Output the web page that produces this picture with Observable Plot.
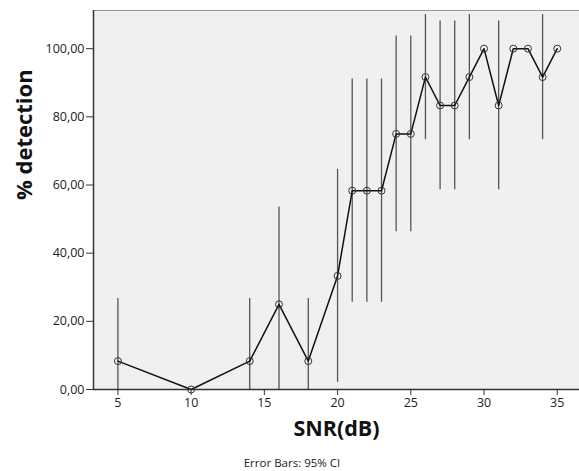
<!DOCTYPE html>
<html>
<head>
<meta charset="utf-8">
<script src="https://cdn.jsdelivr.net/npm/d3@7"></script>
<script src="https://cdn.jsdelivr.net/npm/@observablehq/plot@0.6"></script>
<style>
  html, body { margin: 0; padding: 0; background: #fff; }
  #wrap { position: relative; width: 579px; height: 471px; overflow: hidden; }
  #caption { position: absolute; left: 0; width: 584px; top: 455px; text-align: center;
    font-family: "Open Sans", sans-serif; font-size: 11.5px; color: #222; line-height: 16px; }
</style>
</head>
<body>
<div id="wrap"><div id="chart"></div><div id="caption">Error Bars: 95% CI</div></div>
<script>
const snr       = [5, 10, 14, 16, 18, 20, 21, 22, 23, 24, 25, 26, 27, 28, 29, 30, 31, 32, 33, 34, 35];
const detection = [8.33, 0, 8.33, 25, 8.33, 33.33, 58.33, 58.33, 58.33, 75, 75, 91.67, 83.33, 83.33, 91.67, 100, 83.33, 100, 100, 91.67, 100];
const ciLow     = [-10, 0, -10, -3.5, -10, 2.1, 25.6, 25.6, 25.6, 46.3, 46.3, 73.3, 58.6, 58.6, 73.3, 100, 58.6, 100, 100, 73.3, 100];
const ciHigh    = [26.7, 0, 26.7, 53.5, 26.7, 64.6, 91.1, 91.1, 91.1, 103.7, 103.7, 110, 108.1, 108.1, 110, 100, 108.1, 100, 100, 110, 100];
const yTicks    = [0, 20, 40, 60, 80, 100];
const xTicks    = [5, 10, 15, 20, 25, 30, 35];
const xTitle    = "SNR(dB)";
const yTitle    = "% detection";

const data = snr.map((s, i) => ({snr: s, det: detection[i], lo: ciLow[i], hi: ciHigh[i]}));
const bars = data.filter(d => d.hi > d.lo);
const xDom = [3.333, 36.52];
const yDom = [0, 111.2];
const font = "Open Sans, sans-serif";

const chart = Plot.plot({
  width: 579,
  height: 445,
  marginLeft: 93,
  marginRight: 0,
  marginTop: 10,
  marginBottom: 56,
  style: {fontFamily: font, background: "#fff", color: "#222"},
  x: {domain: xDom},
  y: {domain: yDom},
  marks: [
    Plot.frame({fill: "#f0f0f0", stroke: null}),
    Plot.ruleY([yDom[1]], {stroke: "#999", strokeWidth: 1.2}),
    Plot.ruleX(bars, {x: "snr", y1: "lo", y2: "hi", stroke: "#555", strokeWidth: 1.3, clip: "frame"}),
    Plot.line(data, {x: "snr", y: "det", stroke: "#111", strokeWidth: 1.5}),
    Plot.dot(data, {x: "snr", y: "det", r: 3.5, stroke: "#333", strokeWidth: 1, fill: "none"}),
    Plot.ruleX([xDom[0]], {stroke: "#333", strokeWidth: 1.5}),
    Plot.ruleY([yDom[0]], {stroke: "#333", strokeWidth: 1.5}),
    Plot.axisY(yTicks, {tickSize: 7, tickPadding: 2, fontSize: 12.5, label: null,
      tickFormat: d => d.toFixed(2).replace(".", ","), stroke: "#333"}),
    Plot.axisX(xTicks, {tickSize: 6, tickPadding: 3, fontSize: 12.5, label: null, stroke: "#333"}),
    Plot.text([xTitle], {frameAnchor: "bottom", dy: 46, text: d => d, fontSize: 21.5, fontWeight: "bold", fill: "#111"}),
    Plot.text([yTitle], {frameAnchor: "left", dx: -69, rotate: -90, text: d => d, fontSize: 22, fontWeight: "bold", fill: "#111"})
  ]
});
document.getElementById("chart").appendChild(chart);
</script>
</body>
</html>
